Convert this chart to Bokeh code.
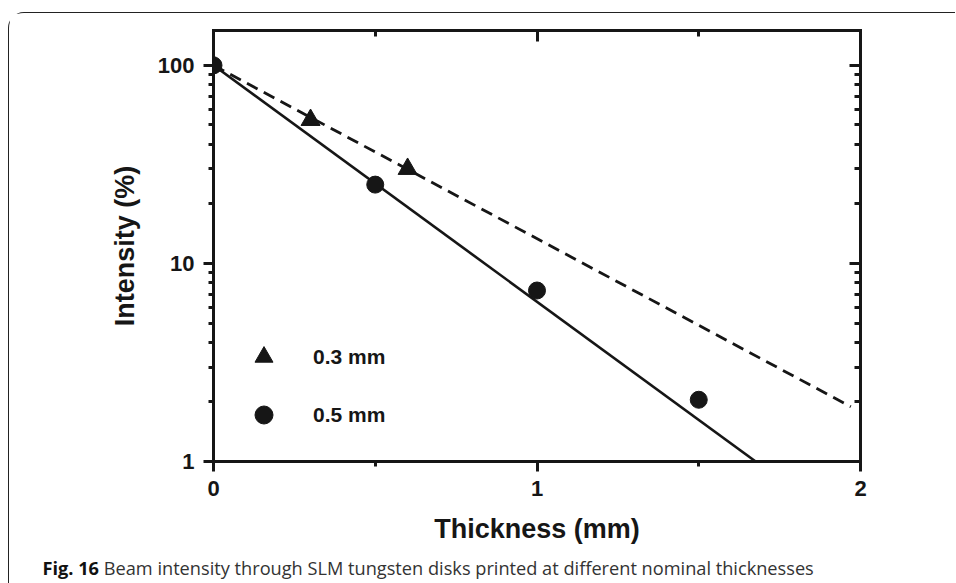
import math
from bokeh.plotting import figure
from bokeh.layouts import column
from bokeh.models import (Range1d, LinearAxis, LogAxis, FixedTicker, Legend, LegendItem,
                          CustomJSTickFormatter, PrintfTickFormatter, Div)
from bokeh.embed import file_html
from bokeh.resources import INLINE

# ---------------- data ----------------
thin_x = [0.0, 0.3, 0.6]            # 0.3 mm disks (triangles)
thin_y = [100.0, 53.0, 30.0]
thick_x = [0.0, 0.5, 1.0, 1.5]      # 0.5 mm disks (circles)
thick_y = [100.0, 25.0, 7.3, 2.05]
fit_thick_x = [0.0, 1.676]          # solid fit
fit_thick_y = [100.0, 1.0]
fit_thin_x = [0.0, 1.97]            # dashed fit
fit_thin_y = [100.0, 1.89]
x_ticks = [0, 1, 2]
x_minor_ticks = [0.5, 1.5]
y_ticks = [1, 10, 100]
y_minor_ticks = [2, 3, 4, 5, 6, 7, 8, 9, 20, 30, 40, 50, 60, 70, 80, 90]
legend_labels = ["0.3 mm", "0.5 mm"]
x_title = "Thickness (mm)"
y_title = "Intensity (%)"
caption_bold = "Fig. 16"
caption_text = "Beam intensity through SLM tungsten disks printed at different nominal thicknesses"

INK = "#161616"
FONT = "Liberation Sans"

BORDER = 1.5
OX, OY = 8 + BORDER, 12 + BORDER      # where the figure starts on the page
FIG_W, FIG_H = 946, 542

p = figure(width=FIG_W, height=FIG_H, output_backend="svg", toolbar_location=None,
           x_range=Range1d(0, 2), y_range=Range1d(1, 150), y_axis_type="log",
           min_border_left=204, min_border_right=95, min_border_top=17,
           min_border_bottom=94, background_fill_color="white",
           border_fill_color="white", outline_line_color=None)
p.grid.visible = False


def style_axis(ax, outer=True):
    ax.axis_line_width = 3
    ax.axis_line_color = INK
    ax.axis_line_cap = "square"
    ax.major_tick_line_width = 3
    ax.minor_tick_line_width = 3
    ax.major_tick_line_color = INK
    ax.minor_tick_line_color = INK
    if outer:
        ax.major_tick_out = 10
        ax.major_tick_in = 0
        ax.minor_tick_out = 5
        ax.minor_tick_in = 0
        ax.major_label_text_font = FONT
        ax.major_label_text_font_style = "bold"
        ax.major_label_text_font_size = "22px"
        ax.major_label_text_color = INK
        ax.major_label_standoff = 9
        ax.axis_label_text_font = FONT
        ax.axis_label_text_font_style = "bold"
        ax.axis_label_text_font_size = "27px"
        ax.axis_label_text_color = INK
    else:
        ax.major_tick_out = 0
        ax.major_tick_in = 11
        ax.minor_tick_out = 0
        ax.minor_tick_in = 6
        ax.formatter = CustomJSTickFormatter(code="return ''")
        ax.major_label_text_font_size = "0px"
        ax.major_label_standoff = 0


p.xaxis.ticker = FixedTicker(ticks=x_ticks, minor_ticks=x_minor_ticks)
p.yaxis.ticker = FixedTicker(ticks=y_ticks, minor_ticks=y_minor_ticks)
p.yaxis.formatter = PrintfTickFormatter(format="%d")
for ax in p.xaxis + p.yaxis:
    style_axis(ax, outer=True)
p.xaxis.axis_label = x_title
p.xaxis.axis_label_standoff = 15
p.yaxis.axis_label = y_title
p.yaxis.axis_label_standoff = 15

top_ax = LinearAxis(ticker=FixedTicker(ticks=x_ticks, minor_ticks=x_minor_ticks))
style_axis(top_ax, outer=False)
p.add_layout(top_ax, "above")
right_ax = LogAxis(ticker=FixedTicker(ticks=y_ticks, minor_ticks=y_minor_ticks))
style_axis(right_ax, outer=False)
p.add_layout(right_ax, "right")

# fit lines
p.line(fit_thin_x, fit_thin_y, line_color=INK, line_width=2.8, line_dash="12 7")
p.line(fit_thick_x, fit_thick_y, line_color=INK, line_width=2.6)

# data points
r_tri = p.scatter(thin_x, thin_y, marker="triangle", size=19, fill_color=INK,
                  line_color=INK, line_width=1)
r_circ = p.scatter(thick_x, thick_y, marker="circle", size=17, fill_color=INK,
                   line_color=INK, line_width=1)

legend = Legend(items=[LegendItem(label=legend_labels[0], renderers=[r_tri]),
                       LegendItem(label=legend_labels[1], renderers=[r_circ])],
                location=(28, 24), glyph_width=45, glyph_height=45, spacing=13,
                padding=0, margin=0, label_standoff=27,
                label_text_font=FONT, label_text_font_style="bold",
                label_text_font_size="21px", label_text_color=INK,
                border_line_color=None, background_fill_alpha=0)
p.add_layout(legend)

# caption below the chart
cap_h = 583 - int(OY) - FIG_H
caption = Div(
    text=(f'<div style="font-family:\'Open Sans\';font-size:18.2px;line-height:{cap_h - 1}px;'
          f'white-space:nowrap;color:#333333;padding-left:{43 - OX:.1f}px;">'
          f'<b style="color:#111111;">{caption_bold}</b> {caption_text}</div>'),
    width=FIG_W, height=cap_h, margin=0)

page = column(p, caption, spacing=0,
              styles={"margin-left": "8px", "margin-top": "12px",
                      "border-left": f"{BORDER}px solid #222222",
                      "border-top": f"{BORDER}px solid #222222",
                      "border-top-left-radius": "16px",
                      "background-color": "white"})

open("out.html", "w").write(file_html(page, INLINE))
